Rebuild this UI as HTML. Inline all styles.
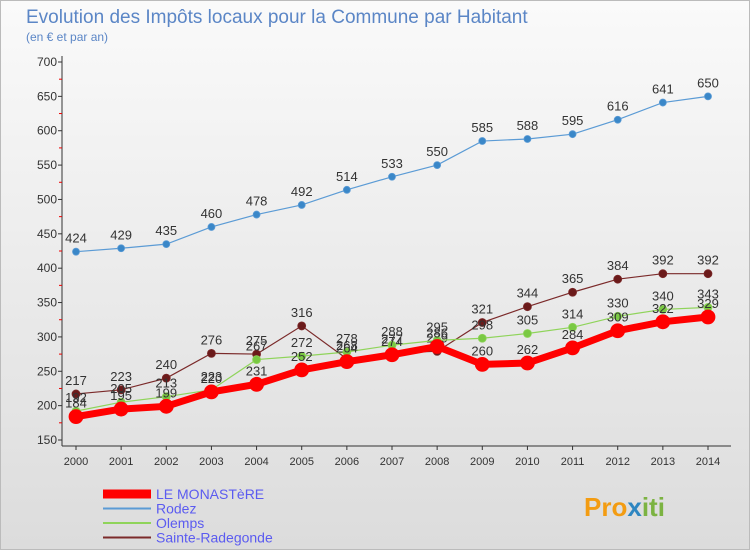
<!DOCTYPE html>
<html><head><meta charset="utf-8"><style>
body{margin:0;width:750px;height:550px;overflow:hidden;font-family:"Liberation Sans",sans-serif}
#wrap{position:relative;width:748px;height:548px;border:1px solid #bbb;background:linear-gradient(#fafafa,#dcdcdc)}
</style></head><body>
<div id="wrap">
<svg id="chart" width="748" height="548" style="position:absolute;left:0;top:0">
<text x="25" y="22" font-size="19" fill="#5b86c6">Evolution des Impôts locaux pour la Commune par Habitant</text>
<text x="25" y="40" font-size="12" fill="#5b86c6">(en € et par an)</text>
<g id="axes"></g><g id="series"></g><g id="legend"></g>
<text x="583" y="515" font-size="26" font-weight="bold" fill="#f39c12">Pro<tspan fill="#2e86c1">x</tspan><tspan fill="#7cb342">iti</tspan></text>
</svg></div>
<script>
const years=[2000,2001,2002,2003,2004,2005,2006,2007,2008,2009,2010,2011,2012,2013,2014];
const monastere=[184,195,199,220,231,252,264,274,286,260,262,284,309,322,329];
const rodez=[424,429,435,460,478,492,514,533,550,585,588,595,616,641,650];
const olemps=[192,205,213,223,267,272,278,288,295,298,305,314,330,340,343];
const radegonde=[217,223,240,276,275,316,268,277,279,321,344,365,384,392,392];
const yTicks=[150,200,250,300,350,400,450,500,550,600,650,700];
const NS="http://www.w3.org/2000/svg";
const x=i=>75+i*(632/14);
const y=v=>439-(v-150)*(378/550);
function el(t,a,p){const e=document.createElementNS(NS,t);for(const k in a)e.setAttribute(k,a[k]);p.appendChild(e);return e;}
const ax=document.getElementById('axes');
const yl=el('line',{x1:61,y1:55,x2:61,y2:445,stroke:'#333'},ax);


const xl=el('line',{x1:61,y1:445,x2:730,y2:445,stroke:'#333'},ax);


yTicks.forEach(v=>{
 el('line',{x1:57,y1:y(v),x2:61,y2:y(v),stroke:'#333'},ax);
 if(v<700)el('line',{x1:58,y1:y(v+25),x2:61,y2:y(v+25),stroke:'#e00'},ax);
 const t=el('text',{x:56,y:y(v)+4,'font-size':12,'text-anchor':'end',fill:'#333'},ax);t.textContent=v;
 
 
});
years.forEach((yr,i)=>{
 el('line',{x1:x(i),y1:445,x2:x(i),y2:449,stroke:'#333'},ax);
 const t=el('text',{x:x(i),y:464,'font-size':11,'text-anchor':'middle',fill:'#333'},ax);t.textContent=yr;
 
 
});
const sg=document.getElementById('series');
function series(data,color,w,r,name,fill){
 const g=el('g',{},sg);
 
 
 el('polyline',{points:data.map((v,i)=>x(i)+','+y(v)).join(' '),fill:'none',stroke:color,'stroke-width':w},g);
 data.forEach((v,i)=>{
  const c=el('circle',{cx:x(i),cy:y(v),r:r,fill:fill,stroke:color,'stroke-width':0.8},g);
  
  
  const t=el('text',{x:x(i),y:y(v)-9,'font-size':13,'text-anchor':'middle',fill:'#333'},g);t.textContent=v;
  
  
 });
}
series(rodez,'#5b9bd5',1.2,3.5,'rodez','#3a87c8');
series(radegonde,'#7b2a2a',1.2,4,'sainte-radegonde','#6b1a1a');
series(olemps,'#8fd45a',1.2,4,'olemps','#7ac943');
series(monastere,'#ff0000',7,7,'le-monastere','#ff0000');
const lg=document.getElementById('legend');
const items=[['LE MONASTèRE','#ff0000',9],['Rodez','#5b9bd5',2],['Olemps','#8fd45a',2],['Sainte-Radegonde','#7b2a2a',2]];
items.forEach((it,k)=>{
 const yy=493+k*14.5;
 const g=el('g',{},lg);
 
 
 el('line',{x1:102,y1:yy,x2:150,y2:yy,stroke:it[1],'stroke-width':it[2]},g);
 const t=el('text',{x:155,y:yy+5,'font-size':14,fill:'#5b5bf0'},g);t.textContent=it[0];
});
</script></body></html>
